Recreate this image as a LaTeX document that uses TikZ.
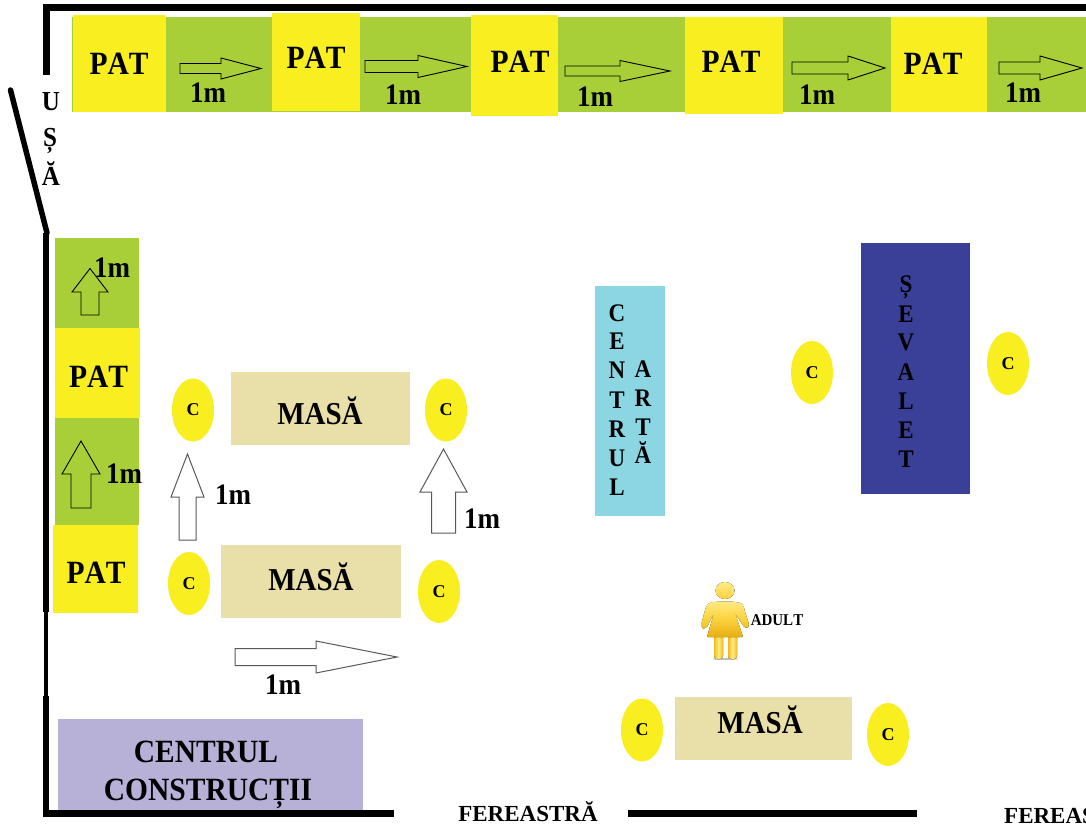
\documentclass[tikz,border=0pt]{standalone}
\usepackage{graphicx}
\usepackage{fontspec}
\setmainfont[Kerning=Off]{Liberation Serif}
\definecolor{patY}{HTML}{F8EE20}
\definecolor{matG}{HTML}{A8CF38}
\definecolor{tanT}{HTML}{E9DFA8}
\definecolor{lilac}{HTML}{B7B1D8}
\definecolor{cyanB}{HTML}{8CD6E4}
\definecolor{blueE}{HTML}{3A3F98}
\definecolor{gold}{HTML}{F0BC1C}
\definecolor{goldL}{HTML}{FFEB85}
\definecolor{goldM}{HTML}{FCD23C}
\definecolor{goldD}{HTML}{E6AE14}
\usetikzlibrary{shapes.geometric}
\tikzset{
  wall/.style={fill=black,draw=none},
  lbl/.style={inner sep=0pt,text=black},
  arrowG/.style={draw=black,line width=0.9pt,fill=matG,line join=miter},
  arrowW/.style={draw=black!65,line width=1pt,fill=white,line join=miter},
  chair/.style={ellipse,fill=patY,draw=none,minimum width=42pt,minimum height=63pt,inner sep=0pt},
}
% label: name, x, y, size, text
\newcommand{\lab}[5]{\node[lbl] (#1) at (#2,#3) {\fontsize{#4}{#4}\selectfont\bfseries\scalebox{1}[1.1]{#5}};}
% label on a baseline: name, x, baseline y, size, text
\newcommand{\labb}[5]{\node[lbl,anchor=base] (#1) at (#2,#3) {\fontsize{#4}{#4}\selectfont\bfseries\scalebox{1}[1.1]{#5}};}
% box: x1,y1,x2,y2,colour
\newcommand{\bx}[5]{\fill[#5] (#1,#2) rectangle (#3,#4);}
% right arrow: x1, neck, tip, y, half shaft, half head, style
\newcommand{\rarr}[7]{\path[#7] (#1,#4-#5) -- (#2,#4-#5) -- (#2,#4-#6) -- (#3,#4) -- (#2,#4+#6) -- (#2,#4+#5) -- (#1,#4+#5) -- cycle;}
% up arrow: x centre, bottom, neck, tip, half shaft, half head, style
\newcommand{\uarr}[7]{\path[#7] (#1-#5,#2) -- (#1-#5,#3) -- (#1-#6,#3) -- (#1,#4) -- (#1+#6,#3) -- (#1+#5,#3) -- (#1+#5,#2) -- cycle;}
\begin{document}
\begin{tikzpicture}[x=1pt,y=-1pt]
\useasboundingbox (0,0) rectangle (1086,826);
\fill[white] (0,0) rectangle (1086,826);
% top row
\bx{72}{17}{1086}{112}{matG}
\bx{73}{15}{166}{112}{patY}
\bx{272}{13}{360}{111}{patY}
\bx{471}{15}{558}{116}{patY}
\bx{685}{17}{783}{114}{patY}
\bx{891}{17}{987}{112}{patY}
\lab{p1}{119}{64}{29.5}{PAT}
\lab{p2}{316}{58}{29.5}{PAT}
\lab{p3}{520}{62}{29.5}{PAT}
\lab{p4}{731}{62}{29.5}{PAT}
\lab{p5}{933}{64}{29.5}{PAT}
\rarr{180}{221}{261}{68.5}{5}{10.5}{arrowG}
\rarr{365}{418}{467}{66.5}{6}{11}{arrowG}
\rarr{565}{620}{670}{71}{5}{10.5}{arrowG}
\rarr{792}{848}{885}{68}{6}{12}{arrowG}
\rarr{999}{1040}{1082}{68}{6}{12}{arrowG}
\lab{m1}{208}{93}{27}{1m}
\lab{m2}{403}{95}{27}{1m}
\lab{m3}{595}{97}{27}{1m}
\lab{m4}{817}{95}{27}{1m}
\lab{m5}{1023}{93}{27}{1m}
% walls
\fill[wall] (43,4) rectangle (1086,11);
\fill[wall] (43,4) rectangle (50,75);
\draw[line width=5.5pt,line cap=round] (10.5,90) -- (47,233);
\fill[wall] (43,233) rectangle (49,612);
\fill[wall] (44,612) rectangle (48,696);
\fill[wall] (43,696) rectangle (49,817);
\fill[wall] (43,810) rectangle (394,817);
\fill[wall] (628,810) rectangle (917,817);
% door text
\labb{u1}{51}{111}{25}{U}
\labb{u2}{50}{147}{25}{Ș}
\labb{u3}{51}{186}{25}{Ă}
% left column
\bx{55}{238}{139}{328}{matG}
\bx{55}{328}{140}{418}{patY}
\bx{55}{418}{139}{525}{matG}
\bx{53}{525}{138}{613}{patY}
\lab{p6}{98.5}{376.5}{29.5}{PAT}
\lab{p7}{96}{573}{29.5}{PAT}
\uarr{90}{315}{292}{268.5}{9}{18}{arrowG}
\uarr{81}{508}{474}{441}{10}{19}{arrowG}
\lab{m6}{112}{267.5}{27}{1m}
\lab{m7}{124}{474}{27}{1m}
% tables
\bx{231}{372}{410}{445}{tanT}
\bx{221}{545}{401}{618}{tanT}
\bx{675}{697}{852}{760}{tanT}
\labb{t1}{320}{424}{29}{MASĂ}
\labb{t2}{311}{590}{29}{MASĂ}
\labb{t3}{760}{733.5}{29}{MASĂ}
% chairs
\node[chair] (c1) at (193,410) {\fontsize{18}{18}\selectfont\bfseries C};
\node[chair] (c2) at (446,410) {\fontsize{18}{18}\selectfont\bfseries C};
\node[chair] (c3) at (189,583.5) {\fontsize{18}{18}\selectfont\bfseries C};
\node[chair] (c4) at (439,591.5) {\fontsize{18}{18}\selectfont\bfseries C};
\node[chair] (c5) at (642,730) {\fontsize{18}{18}\selectfont\bfseries C};
\node[chair] (c6) at (888,734.5) {\fontsize{18}{18}\selectfont\bfseries C};
\node[chair] (c7) at (812,372.5) {\fontsize{18}{18}\selectfont\bfseries C};
\node[chair] (c8) at (1008,363.5) {\fontsize{18}{18}\selectfont\bfseries C};
% white arrows
\uarr{187.5}{540}{497}{454}{8.5}{16.5}{arrowW}
\uarr{443.5}{533}{492}{449}{12}{23.5}{arrowW}
\rarr{235}{316}{397}{657}{8.5}{16}{arrowW}
\lab{m8}{233}{495}{27}{1m}
\lab{m9}{482}{519}{27}{1m}
\lab{m10}{283}{685}{27}{1m}
% centrul constructii
\bx{58}{719}{363}{810}{lilac}
\labb{cc1}{206}{762}{29.5}{CENTRUL}
\labb{cc2}{208}{800}{29.5}{CONSTRUCȚII}
% centrul arta
\bx{595}{286}{665}{516}{cyanB}
\labb{a1}{617}{321}{23}{C}
\labb{a2}{617}{349}{23}{E}
\labb{a3}{617}{378}{23}{N}
\labb{a4}{617}{408}{23}{T}
\labb{a5}{617}{437}{23}{R}
\labb{a6}{617}{466}{23}{U}
\labb{a7}{617}{495}{23}{L}
\labb{b1}{643}{377}{23}{A}
\labb{b2}{643}{406}{23}{R}
\labb{b3}{643}{435}{23}{T}
\labb{b4}{643}{463}{23}{Ă}
% sevalet
\bx{861}{243}{970}{494}{blueE}
\labb{s1}{906}{292}{23}{Ș}
\labb{s2}{906}{322}{23}{E}
\labb{s3}{906}{350}{23}{V}
\labb{s4}{906}{380}{23}{A}
\labb{s5}{906}{409}{23}{L}
\labb{s6}{906}{438}{23}{E}
\labb{s7}{906}{467}{23}{T}
% adult figure
\fill[black!25] (725.5,659) ellipse [x radius=13pt,y radius=1pt];
\fill[left color=gold,right color=gold,middle color=goldL,rounded corners=3pt] (714,632) rectangle (723,659);
\fill[left color=gold,right color=gold,middle color=goldL,rounded corners=3pt] (728,632) rectangle (737,659);
\fill[top color=goldL,bottom color=goldD,middle color=goldM,rounded corners=1pt] (712,602.5) .. controls (708,603) and (706,606) .. (704.5,612) -- (701,625) -- (703,629) -- (707,627) -- (714,613) -- (707,637) -- (743,637) -- (735,613) -- (744,627) -- (748,628) -- (749,624) -- (745,612) .. controls (744,606) and (742,603) .. (738,602.5) .. controls (730,601) and (720,601) .. (712,602.5) -- cycle;
\fill[top color=goldL,bottom color=goldM] (725,590.5) ellipse [x radius=9.5pt,y radius=8.5pt];
\labb{ad}{777}{625}{15}{ADULT}
% windows
\node[lbl,anchor=base] (f1) at (528,821) {\fontsize{23}{23}\selectfont\bfseries FEREASTRĂ};
\node[lbl,anchor=base west] (f2) at (1004,823) {\fontsize{23}{23}\selectfont\bfseries FEREASTRĂ};
\end{tikzpicture}
\end{document}
